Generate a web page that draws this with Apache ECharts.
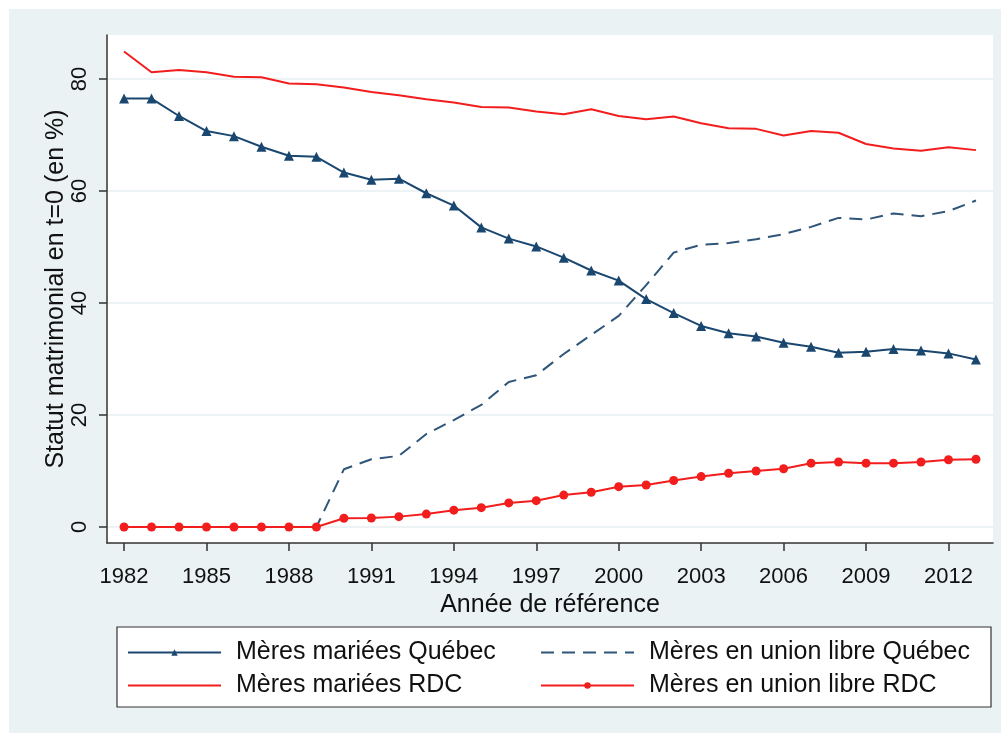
<!DOCTYPE html>
<html>
<head>
<meta charset="utf-8">
<script src="https://cdn.jsdelivr.net/npm/echarts@6/dist/echarts.min.js"></script>
<style>
html,body{margin:0;padding:0;background:#fff;}
#chart{width:1005px;height:738px;}
</style>
</head>
<body>
<div id="chart"></div>
<script>
var years = [1982,1983,1984,1985,1986,1987,1988,1989,1990,1991,1992,1993,1994,1995,1996,1997,
             1998,1999,2000,2001,2002,2003,2004,2005,2006,2007,2008,2009,2010,2011,2012,2013];
var marieesQuebec = [76.5,76.5,73.4,70.7,69.8,67.9,66.3,66.1,63.3,62.0,62.2,59.6,57.4,53.5,51.5,50.1,
                     48.1,45.8,44.0,40.7,38.2,35.9,34.6,34.0,32.9,32.2,31.1,31.3,31.8,31.5,31.0,29.9];
var unionQuebec = [0,0,0,0,0,0,0,0,10.3,12.1,12.7,16.6,19.1,21.8,25.9,27.1,
                   30.9,34.3,37.7,43.2,49.0,50.4,50.7,51.4,52.3,53.6,55.2,54.9,56.0,55.5,56.4,58.3];
var marieesRDC = [84.9,81.2,81.6,81.2,80.4,80.3,79.2,79.05,78.5,77.7,77.1,76.4,75.8,75.0,74.9,74.2,
                  73.7,74.6,73.4,72.8,73.3,72.1,71.2,71.1,69.9,70.7,70.4,68.4,67.6,67.2,67.8,67.3];
var unionRDC = [0,0,0,0,0,0,0,0,1.55,1.6,1.85,2.3,3.0,3.45,4.3,4.7,
                5.7,6.2,7.2,7.5,8.3,9.0,9.6,10.0,10.4,11.4,11.6,11.4,11.4,11.6,12.0,12.1];
var xTicks = [1982,1985,1988,1991,1994,1997,2000,2003,2006,2009,2012];
var yTicks = [0,20,40,60,80];
var seriesNames = ['Mères mariées Québec','Mères en union libre Québec','Mères mariées RDC','Mères en union libre RDC'];

function pairs(arr){ return years.map(function(y,i){ return [y, arr[i]]; }); }

var navy = '#1a476f';
var red = '#f21d1d';
var font = 'Liberation Sans, Arial, sans-serif';
var hiddenSym = {color:'rgba(0,0,0,0)', borderWidth:0};
var legendText = {fontSize:25, color:'#111', fontFamily:font, padding:[0,0,0,10]};
var chart = echarts.init(document.getElementById('chart'), null, {renderer:'canvas'});
chart.setOption({
  backgroundColor: '#ffffff',
  animation: false,
  graphic: [
    {type:'rect', z:-10, shape:{x:9,y:9,width:992,height:724}, style:{fill:'#eaf2f3'}, silent:true},
    {type:'rect', z:1, shape:{x:117,y:627,width:874,height:80}, style:{fill:'#ffffff', stroke:'#333', lineWidth:1.2}, silent:true}
  ],
  grid: {left:107, top:35, right:12, bottom:195, show:true, backgroundColor:'#ffffff', borderWidth:0},
  legend: [
    {data:[{name:seriesNames[0]}, {name:seriesNames[2], itemStyle:hiddenSym}],
     orient:'vertical', left:122, top:635, itemWidth:93, itemHeight:8,
     itemGap:8, textStyle:legendText, z:5},
    {data:[{name:seriesNames[1], itemStyle:hiddenSym}, {name:seriesNames[3]}],
     orient:'vertical', left:535, top:635, itemWidth:93, itemHeight:8,
     itemGap:8, textStyle:legendText, z:5}
  ],
  xAxis: {
    type:'value', min:1981.38, max:2013.62,
    name:'Année de référence', nameLocation:'middle', nameGap:43,
    nameTextStyle:{fontSize:25, color:'#111', fontFamily:font},
    axisLine:{show:true, onZero:false, lineStyle:{color:'#333', width:1.5}},
    axisTick:{show:true, length:8, lineStyle:{color:'#333', width:1.5}, customValues:xTicks},
    axisLabel:{fontSize:22, color:'#111', fontFamily:font, margin:23, customValues:xTicks,
               formatter:function(v){ return String(v); }},
    splitLine:{show:false}
  },
  yAxis: {
    type:'value', min:-2.86, max:87.86,
    name:'Statut matrimonial en t=0 (en %)', nameLocation:'middle', nameGap:38, nameRotate:90,
    nameMoveOverlap:false,
    nameTextStyle:{fontSize:25, color:'#111', fontFamily:font},
    axisLine:{show:true, onZero:false, lineStyle:{color:'#333', width:1.5}},
    axisTick:{show:true, length:8, lineStyle:{color:'#333', width:1.5}, customValues:yTicks},
    axisLabel:{fontSize:22, color:'#111', fontFamily:font, rotate:90, margin:16, customValues:yTicks},
    splitLine:{show:true, lineStyle:{color:'#edf2f4', width:2}}
  },
  series: [
    {name:seriesNames[0], type:'line', data:pairs(marieesQuebec), symbol:'triangle', symbolSize:10,
     lineStyle:{color:navy, width:2}, itemStyle:{color:navy}, z:4},
    {name:seriesNames[1], type:'line', data:pairs(unionQuebec), symbol:'circle', showSymbol:false,
     lineStyle:{color:'#2f5579', width:2, type:[13,8]}, itemStyle:{color:'#2f5579'}, z:3},
    {name:seriesNames[2], type:'line', data:pairs(marieesRDC), symbol:'circle', showSymbol:false,
     lineStyle:{color:red, width:2}, itemStyle:{color:red}, z:3},
    {name:seriesNames[3], type:'line', data:pairs(unionRDC), symbol:'circle', symbolSize:9,
     lineStyle:{color:red, width:2}, itemStyle:{color:red}, z:4}
  ]
});
</script>
</body>
</html>
